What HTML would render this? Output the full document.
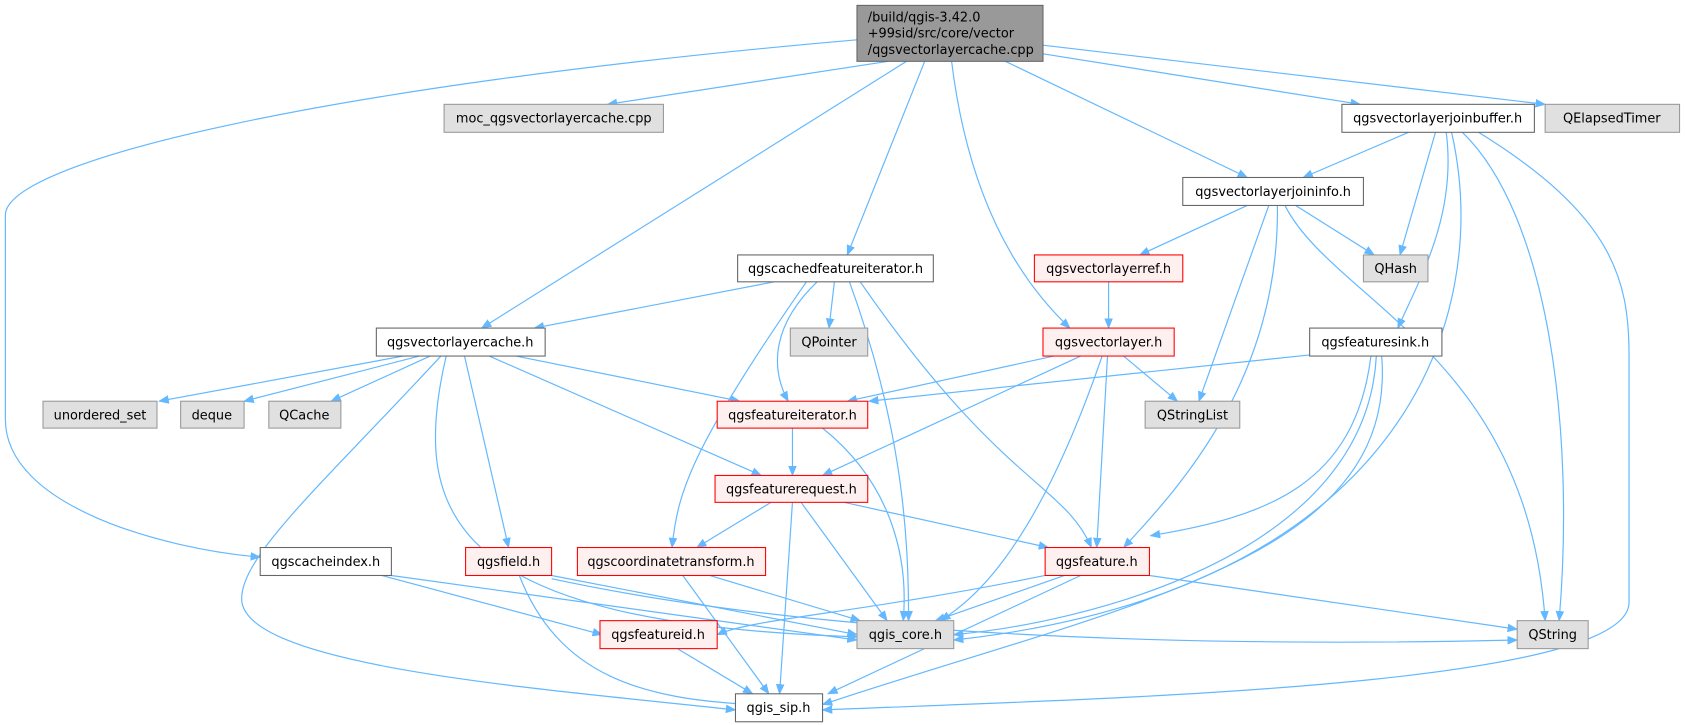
<!DOCTYPE html>
<html><head><meta charset="utf-8"><style>
html,body{margin:0;padding:0;background:#fff;}
svg{display:block}
text{font-family:"DejaVu Sans","Liberation Sans",sans-serif;font-size:12px;fill:#000}
.e{fill:none;stroke:#63b8ff;stroke-width:1.1}
.w{fill:#fff;stroke:#666}
.g{fill:#e0e0e0;stroke:#999}
.r{fill:#fff0f0;stroke:#f00}
</style></head><body>
<svg width="1686" height="725" viewBox="0 0 1568 674" preserveAspectRatio="none" xmlns="http://www.w3.org/2000/svg">
<defs><marker id="a" markerWidth="10" markerHeight="8" refX="9" refY="4" orient="auto" markerUnits="userSpaceOnUse"><path d="M0,0 L10,4 L0,8 z" fill="#63b8ff"/></marker></defs>
<g class="e" marker-end="url(#a)">
<path d="M797,37 C300,80 5,150 5,200 L5,390 C5,470 150,510 242,518"/>
<path d="M826,57 L565,97"/>
<path d="M843,57 L448,305"/>
<path d="M860,57 L788,237"/>
<path d="M885,57 Q905,220 995,305"/>
<path d="M935,57 L1160,165"/>
<path d="M970,50 L1265,97"/>
<path d="M970,42 L1437,97"/>
<path d="M1310,123 L1212,165"/>
<path d="M1335,123 L1302,237"/>
<path d="M1345,123 C1355,200 1320,260 1300,305"/>
<path d="M1350,123 C1390,300 1300,550 887,595"/>
<path d="M1360,123 C1440,200 1465,400 1450,577"/>
<path d="M1375,123 C1500,200 1515,260 1515,330 L1515,560 C1515,640 1000,650 765,660"/>
<path d="M1160,191 L1060,237"/>
<path d="M1205,191 L1278,237"/>
<path d="M1180,191 L1115,373"/>
<path d="M1188,191 C1190,350 1100,450 1045,509"/>
<path d="M1195,191 C1240,280 1420,330 1437,577"/>
<path d="M1031,262 L1031,305"/>
<path d="M720,262 L497,305"/>
<path d="M776,262 L771,305"/>
<path d="M760,262 C720,300 715,340 733,373"/>
<path d="M750,262 C640,420 630,460 625,509"/>
<path d="M790,262 C840,400 845,500 845,577"/>
<path d="M800,262 C930,450 990,450 1015,509"/>
<path d="M375,331 L148,373"/>
<path d="M390,331 L227,373"/>
<path d="M400,331 L308,373"/>
<path d="M480,331 L688,373"/>
<path d="M455,331 L708,442"/>
<path d="M432,331 L473,509"/>
<path d="M415,331 C380,480 420,580 797,592"/>
<path d="M410,331 C300,450 220,520 225,560 C235,620 500,640 684,660"/>
<path d="M980,331 L788,373"/>
<path d="M1005,331 L765,442"/>
<path d="M1045,331 L1095,373"/>
<path d="M1025,331 C960,520 900,560 875,577"/>
<path d="M1030,331 L1020,509"/>
<path d="M1218,330 L808,373"/>
<path d="M1275,331 C1260,450 1180,480 1070,498"/>
<path d="M1280,331 C1270,520 1000,580 887,590"/>
<path d="M1285,331 C1300,520 1050,560 765,655"/>
<path d="M737,398 L737,442"/>
<path d="M765,398 C830,450 845,520 840,577"/>
<path d="M717,467 L648,509"/>
<path d="M745,467 L825,577"/>
<path d="M737,467 L725,645"/>
<path d="M785,467 L975,509"/>
<path d="M355,535 L560,590"/>
<path d="M364,535 L797,595"/>
<path d="M513,535 L797,590"/>
<path d="M483,535 C520,630 600,650 700,655"/>
<path d="M513,538 C800,600 1200,600 1411,595"/>
<path d="M660,535 L800,577"/>
<path d="M635,535 L715,645"/>
<path d="M972,535 C800,570 700,575 667,590"/>
<path d="M990,535 L870,577"/>
<path d="M1005,535 L770,645"/>
<path d="M1069,535 L1411,585"/>
<path d="M630,603 L700,645"/>
</g>
<rect x="797" y="5" width="173" height="52" fill="#999" stroke="#666"/>
<text x="807" y="20">/build/qgis-3.42.0</text>
<text x="807" y="35">+99sid/src/core/vector</text>
<text x="807" y="50">/qgsvectorlayercache.cpp</text>
<g text-anchor="middle">
<rect class="g" x="413" y="97" width="204" height="26"/><text x="515" y="114">moc_qgsvectorlayercache.cpp</text>
<rect class="w" x="1248" y="97" width="179" height="26"/><text x="1337" y="114">qgsvectorlayerjoinbuffer.h</text>
<rect class="g" x="1437" y="97" width="125" height="26"/><text x="1499" y="114">QElapsedTimer</text>
<rect class="w" x="1100" y="165" width="168" height="26"/><text x="1184" y="182">qgsvectorlayerjoininfo.h</text>
<rect class="w" x="686" y="237" width="182" height="25"/><text x="777" y="254">qgscachedfeatureiterator.h</text>
<rect class="r" x="962" y="237" width="138" height="25"/><text x="1031" y="254">qgsvectorlayerref.h</text>
<rect class="g" x="1268" y="237" width="60" height="25"/><text x="1298" y="254">QHash</text>
<rect class="w" x="350" y="305" width="157" height="26"/><text x="428" y="322">qgsvectorlayercache.h</text>
<rect class="g" x="735" y="305" width="72" height="26"/><text x="771" y="322">QPointer</text>
<rect class="r" x="970" y="305" width="122" height="26"/><text x="1031" y="322">qgsvectorlayer.h</text>
<rect class="w" x="1218" y="305" width="123" height="26"/><text x="1279" y="322">qgsfeaturesink.h</text>
<rect class="g" x="40" y="373" width="106" height="25"/><text x="93" y="390">unordered_set</text>
<rect class="g" x="168" y="373" width="59" height="25"/><text x="197" y="390">deque</text>
<rect class="g" x="250" y="373" width="67" height="25"/><text x="283" y="390">QCache</text>
<rect class="r" x="667" y="373" width="140" height="25"/><text x="737" y="390">qgsfeatureiterator.h</text>
<rect class="g" x="1065" y="373" width="88" height="25"/><text x="1109" y="390">QStringList</text>
<rect class="r" x="665" y="442" width="142" height="25"/><text x="736" y="459">qgsfeaturerequest.h</text>
<rect class="w" x="242" y="509" width="122" height="26"/><text x="303" y="526">qgscacheindex.h</text>
<rect class="r" x="433" y="509" width="80" height="26"/><text x="473" y="526">qgsfield.h</text>
<rect class="r" x="537" y="509" width="175" height="26"/><text x="624" y="526">qgscoordinatetransform.h</text>
<rect class="r" x="972" y="509" width="97" height="26"/><text x="1020" y="526">qgsfeature.h</text>
<rect class="r" x="558" y="577" width="109" height="26"/><text x="612" y="594">qgsfeatureid.h</text>
<rect class="g" x="797" y="577" width="90" height="26"/><text x="842" y="594">qgis_core.h</text>
<rect class="g" x="1411" y="577" width="66" height="26"/><text x="1444" y="594">QString</text>
<rect class="w" x="684" y="645" width="81" height="26"/><text x="724" y="662">qgis_sip.h</text>
</g>
</svg>
</body></html>
